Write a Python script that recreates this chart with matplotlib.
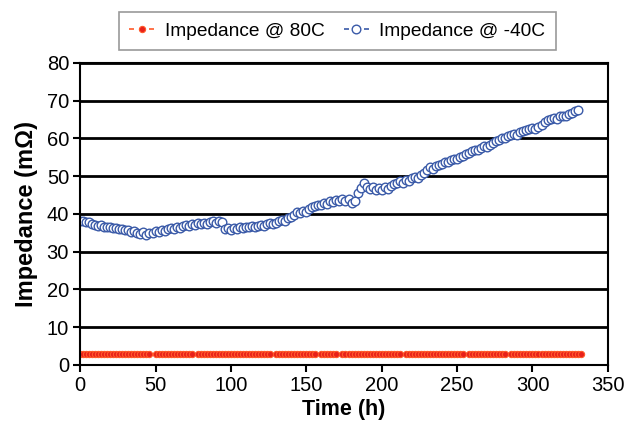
import numpy as np
import matplotlib.pyplot as plt

# Impedance at -40C, sampled every 2 h from 0 to 330 h
t_cold = np.arange(0, 331, 2)
imp_cold = [
    38.2, 38.0, 37.8, 37.9, 37.4, 37.0, 36.9, 37.1, 36.6, 36.4,
    36.5, 36.2, 36.3, 35.9, 36.0, 35.6, 35.8, 35.3, 35.4, 35.0,
    34.7, 35.1, 34.5, 35.0, 34.9, 35.4, 35.2, 35.7, 35.5, 36.0,
    36.2, 36.0, 36.5, 36.3, 36.7, 37.0, 36.8, 37.3, 37.1, 37.5,
    37.3, 37.7, 37.4, 37.9, 38.0, 37.6, 38.1, 37.8, 35.9, 36.3,
    35.8, 36.2, 36.0, 36.4, 36.3, 36.5, 36.4, 36.7, 36.6, 36.9,
    37.0, 36.9, 37.2, 37.5, 37.4, 37.7, 38.0, 38.4, 38.1, 38.8,
    39.3, 39.8, 40.4, 40.1, 40.8, 40.5, 41.3, 41.7, 42.0, 42.4,
    42.3, 43.0, 42.7, 43.3, 43.1, 43.6, 43.4, 43.9, 43.5, 44.0,
    42.8, 43.3, 45.5, 46.8, 48.2, 47.0, 46.5, 47.2, 46.3, 46.8,
    46.2, 47.0, 46.6, 47.5, 47.8, 48.2, 48.6, 48.3, 49.0, 48.8,
    49.4, 49.8, 49.5, 50.2, 50.8, 51.6, 52.3, 52.0, 52.6, 52.9,
    53.3, 53.8, 53.6, 54.2, 54.6, 54.4, 55.0, 55.4, 55.8, 56.1,
    56.6, 57.0, 56.8, 57.5, 57.9, 57.7, 58.3, 58.8, 59.3, 59.6,
    60.2, 60.0, 60.6, 60.9, 61.2, 61.0, 61.6, 62.0, 62.3, 62.6,
    62.8, 62.6, 63.1, 63.6, 64.2, 64.8, 65.0, 65.5, 65.2, 65.8,
    66.0, 65.9, 66.4, 66.8, 67.2, 67.6,
]

# Impedance at 80C: flat ~3 mOhm, logged in runs with short gaps
runs_hot = [(0, 46), (50, 74), (78, 126), (130, 156), (160, 170),
            (174, 212), (216, 254), (258, 282), (286, 332)]
level_hot = 3.0
t_hot = np.concatenate([np.arange(a, b + 1, 2) for a, b in runs_hot])
imp_hot = np.full(len(t_hot), level_hot)

x_ticks = np.arange(0, 351, 50)
y_ticks = np.arange(0, 81, 10)

plt.rcParams['font.family'] = ['Liberation Sans', 'DejaVu Sans']

fig = plt.figure(figsize=(6.26, 4.36), dpi=100)
ax = fig.add_axes([0.128, 0.163, 0.843, 0.693])

ax.plot(t_hot, imp_hot, linestyle='--', dashes=(3, 3), color='#ff5a2a', lw=1.2,
        marker='o', markersize=4.5, markerfacecolor='#e8201a',
        markeredgecolor='#ff5a2a', markeredgewidth=0.8,
        label='Impedance @ 80C')
ax.plot(t_cold, imp_cold, linestyle='--', dashes=(3, 3), color='#3a5aa8', lw=1.2,
        marker='o', markersize=6.2, markerfacecolor='white',
        markeredgecolor='#3a5aa8', markeredgewidth=1,
        label='Impedance @ -40C')

ax.set_xlim(0, 350)
ax.set_ylim(0, 80)
ax.set_xticks(x_ticks)
ax.set_yticks(y_ticks)
ax.yaxis.grid(True, color='black', lw=2)
ax.set_axisbelow(True)
for s in ax.spines.values():
    s.set_color('black')
    s.set_linewidth(1.5)
ax.tick_params(axis='both', direction='out', length=5, width=1.5,
               labelsize=14.5, colors='black', pad=3)

ax.set_xlabel('Time (h)', fontsize=15.5, fontweight='bold', labelpad=3)
ax.set_ylabel('Impedance (m\u03a9)', fontsize=17, fontweight='bold', labelpad=6)

leg = fig.legend(loc='center', bbox_to_anchor=(0.539, 0.929), ncol=2,
                 fontsize=13.8, frameon=True, fancybox=False,
                 handlelength=1.3, columnspacing=1.0, borderpad=0.55,
                 handletextpad=0.55)
leg.get_frame().set_edgecolor('#808080')
leg.get_frame().set_linewidth(1.2)

fig.savefig('out.png', dpi=100)
